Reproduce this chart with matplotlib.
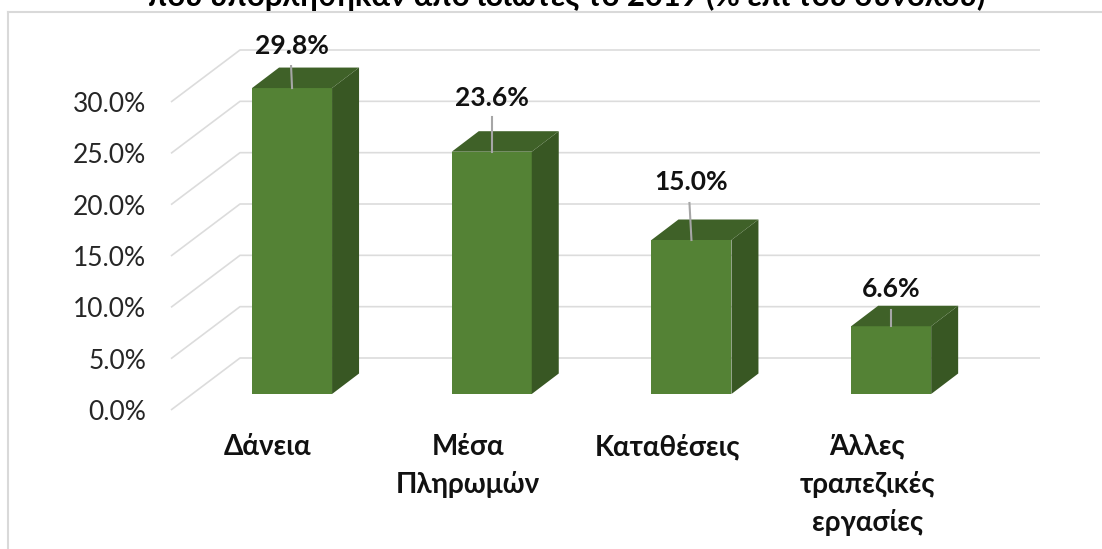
import matplotlib
matplotlib.use("Agg")
import matplotlib.pyplot as plt
from matplotlib.patches import Polygon, Rectangle

categories = ["Δάνεια", "Μέσα\nΠληρωμών", "Καταθέσεις", "Άλλες\nτραπεζικές\nεργασίες"]
values = [29.8, 23.6, 15.0, 6.6]
value_ticks = [0, 5, 10, 15, 20, 25, 30]
title = "που υποβλήθηκαν από ιδιώτες το 2019 (% επί του συνόλου)"

W, H = 1102, 549
plt.rcParams['font.family'] = ['Lato', 'Noto Sans', 'DejaVu Sans']
fig = plt.figure(figsize=(W / 100, H / 100), dpi=100)
fig.patch.set_facecolor("white")

# Axes = front plane of the pseudo-3D floor, in pixel layout
L, R, B, T = 171, 971, 410, 102
ax = fig.add_axes([L / W, 1 - B / H, (R - L) / W, (B - T) / H])
ax.set_xlim(-0.486, 3.52)
ax.set_ylim(0, 30)
px_x = (3.52 + 0.486) / (R - L)
px_y = 30 / (B - T)
for s in ax.spines.values():
    s.set_visible(False)
ax.patch.set_visible(False)

ax.set_yticks(value_ticks)
ax.set_yticklabels([f"{v:.1f}%" for v in value_ticks], fontsize=19, color="#262626")
ax.tick_params(axis="y", length=0, pad=18)
ax.set_xticks(range(len(categories)))
ax.set_xticklabels(categories, fontsize=20, fontweight="bold", color="#111111", linespacing=1.5)
ax.tick_params(axis="x", length=0, pad=17)

wall_dx, wall_dy = 69 * px_x, 52 * px_y
xlo, xhi = ax.get_xlim()
for v in value_ticks:
    ax.plot([xlo, xlo + wall_dx, xhi + wall_dx], [v, v + wall_dy, v + wall_dy],
            color="#dcdcdc", lw=1.2, clip_on=False, zorder=1, solid_capstyle="butt")

bar_w = 80 * px_x
bar_shift = 24 * px_x
floor = 16 * px_y
dx, dy = 27 * px_x, 20.5 * px_y
label_gap = [42, 54, 58, 37]
leader_gap = [22, 35, 37, 16]
leader_lean = [-1, 0, -2, 0]
for i, v in enumerate(values):
    x0 = i + bar_shift - bar_w / 2
    x1 = x0 + bar_w
    y0, y1 = floor, floor + v
    ax.add_patch(Rectangle((x0, y0), bar_w, v, fc="#548235", ec="none", zorder=3, clip_on=False))
    ax.add_patch(Polygon([(x1, y0), (x1 + dx, y0 + dy), (x1 + dx, y1 + dy), (x1, y1)],
                         fc="#385723", ec="none", zorder=3, clip_on=False))
    ax.add_patch(Polygon([(x0, y1), (x0 + dx, y1 + dy), (x1 + dx, y1 + dy), (x1, y1)],
                         fc="#3f6128", ec="none", zorder=3, clip_on=False))
    xc = x0 + bar_w / 2
    ax.plot([xc, xc + leader_lean[i] * px_x], [y1, y1 + leader_gap[i] * px_y],
            color="#a6a6a6", lw=1.5, zorder=4, clip_on=False)
    ax.text(xc, y1 + label_gap[i] * px_y, f"{v:.1f}%", ha="center", va="center",
            fontsize=19, fontweight="bold", color="#111111", zorder=5, clip_on=False)

# chart-area frame: only top and left edges fall inside the picture
fig.add_artist(plt.Line2D([8 / W, 8 / W], [0, 1 - 12 / H], color="#d9d9d9", lw=1.5))
fig.add_artist(plt.Line2D([8 / W, 1], [1 - 12 / H, 1 - 12 / H], color="#d9d9d9", lw=1.5))

fig.text(567 / W, 1 - 6 / H, title, ha="center", va="baseline", fontsize=22.2, fontweight="bold", color="black")

fig.savefig("out.png", dpi=100)
